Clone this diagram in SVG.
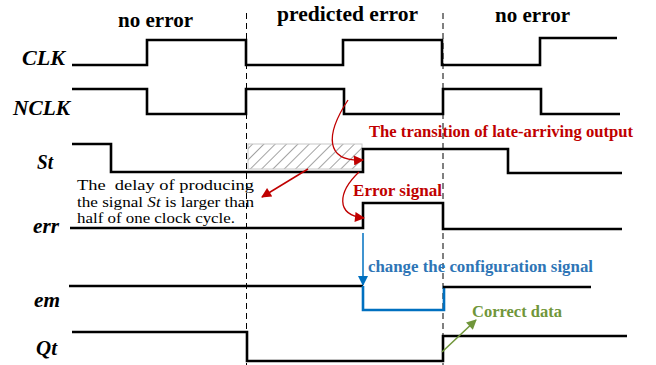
<svg xmlns="http://www.w3.org/2000/svg" width="656" height="365" viewBox="0 0 656 365">
<defs>
<style>
.w{fill:none;stroke:#000;stroke-width:2.6;stroke-linejoin:miter}
.sig{font-family:"Liberation Serif",serif;font-weight:bold;font-style:italic;font-size:20px;fill:#000}
.hd{font-family:"Liberation Serif",serif;font-weight:bold;font-size:21px;fill:#000}
.note{font-family:"Liberation Serif",serif;font-size:15.5px;fill:#000}
.lab{font-family:"Liberation Serif",serif;font-weight:bold;font-size:16.5px}
.dash{stroke:#000;stroke-width:1;stroke-dasharray:6,4;fill:none}
</style>
<pattern id="hatch" patternUnits="userSpaceOnUse" width="8" height="8" patternTransform="rotate(45)">
<line x1="0" y1="0" x2="0" y2="8" stroke="#333" stroke-width="0.9"/>
</pattern>
<marker id="arr" viewBox="0 0 10 10" refX="9" refY="5" markerWidth="12" markerHeight="10" orient="auto" markerUnits="userSpaceOnUse">
<path d="M0,0 L10,5 L0,10 z" fill="#c00000"/>
</marker>
<marker id="arb" viewBox="0 0 10 10" refX="9" refY="5" markerWidth="12" markerHeight="10" orient="auto" markerUnits="userSpaceOnUse">
<path d="M0,0 L10,5 L0,10 z" fill="#0070c0"/>
</marker>
<marker id="arg" viewBox="0 0 10 10" refX="9" refY="5" markerWidth="12" markerHeight="10" orient="auto" markerUnits="userSpaceOnUse">
<path d="M0,0 L10,5 L0,10 z" fill="#70963a"/>
</marker>
</defs>
<rect width="656" height="365" fill="#fff"/>

<g id="headers">
<text class="hd" x="118" y="27" textLength="75" lengthAdjust="spacingAndGlyphs">no error</text>
<text class="hd" x="277" y="21" textLength="141" lengthAdjust="spacingAndGlyphs">predicted error</text>
<text class="hd" x="495" y="22" textLength="75" lengthAdjust="spacingAndGlyphs">no error</text>
</g>

<g id="dividers">
<line class="dash" x1="246.5" y1="13" x2="246.5" y2="365"/>
<line class="dash" x1="443" y1="13" x2="443" y2="365"/>
</g>

<g id="hatched">
<rect x="248" y="144" width="114" height="25" fill="url(#hatch)" stroke="#c8c8c8" stroke-width="1"/>
</g>

<g id="CLK">
<text class="sig" x="22" y="65" textLength="43" lengthAdjust="spacingAndGlyphs">CLK</text>
<path class="w" d="M72,65 H147 V40 H246 V65 H343 V40 H442 V65 H540 V38 H617"/>
</g>
<g id="NCLK">
<text class="sig" x="13" y="115" textLength="57" lengthAdjust="spacingAndGlyphs">NCLK</text>
<path class="w" d="M72,89 H147 V114 H246 V89 H344 V114 H443 V89 H541 V114 H620"/>
</g>
<g id="St">
<text class="sig" x="37" y="169" textLength="16" lengthAdjust="spacingAndGlyphs">St</text>
<path class="w" d="M72,144 H111 V172 H363 V149 H508 V173 H622"/>
</g>
<g id="err">
<text class="sig" x="33" y="233" textLength="26" lengthAdjust="spacingAndGlyphs">err</text>
<path class="w" d="M70,228 H363 V203 H443 V229 H622"/>
</g>
<g id="em">
<text class="sig" x="34" y="307" textLength="26" lengthAdjust="spacingAndGlyphs">em</text>
<path class="w" d="M69,286 H363"/>
<path fill="none" stroke="#0070c0" stroke-width="2.6" d="M363,286 V310 H444 V286"/>
<path class="w" d="M443,287 H591"/>
</g>
<g id="Qt">
<text class="sig" x="36" y="355" textLength="21" lengthAdjust="spacingAndGlyphs">Qt</text>
<path class="w" d="M72,332 H247 V361 H443 V336 H627"/>
</g>

<g id="note">
<text class="note" x="77" y="190" xml:space="preserve" textLength="177" lengthAdjust="spacingAndGlyphs">The  delay of producing</text>
<text class="note" x="77" y="207" textLength="177" lengthAdjust="spacingAndGlyphs">the signal <tspan font-style="italic">St</tspan> is larger than</text>
<text class="note" x="77" y="223" textLength="158" lengthAdjust="spacingAndGlyphs">half of one clock cycle.</text>
</g>

<g id="labels">
<text class="lab" x="369" y="137" fill="#c00000" textLength="264" lengthAdjust="spacingAndGlyphs">The transition of late-arriving output</text>
<text class="lab" x="353" y="196" fill="#c00000" textLength="89" lengthAdjust="spacingAndGlyphs">Error signal</text>
<text class="lab" x="368" y="272" fill="#2e75b6" textLength="225" lengthAdjust="spacingAndGlyphs">change the configuration signal</text>
<text class="lab" x="472" y="317" fill="#70963a" textLength="90" lengthAdjust="spacingAndGlyphs">Correct data</text>
</g>

<g id="connectors">
<path d="M348,100 C 325,135 325,162 363,160" fill="none" stroke="#c00000" stroke-width="1.3" marker-end="url(#arr)"/>
<path d="M308,169 L262,197" fill="none" stroke="#c00000" stroke-width="1.5" marker-end="url(#arr)"/>
<path d="M359,172 C 338,192 335,215 364,218" fill="none" stroke="#c00000" stroke-width="1.3" marker-end="url(#arr)"/>
<path d="M363,233 V285" fill="none" stroke="#0070c0" stroke-width="1.5" marker-end="url(#arb)"/>
<path d="M442,352 L476,320" fill="none" stroke="#70963a" stroke-width="1.5" marker-end="url(#arg)"/>
</g>
</svg>
